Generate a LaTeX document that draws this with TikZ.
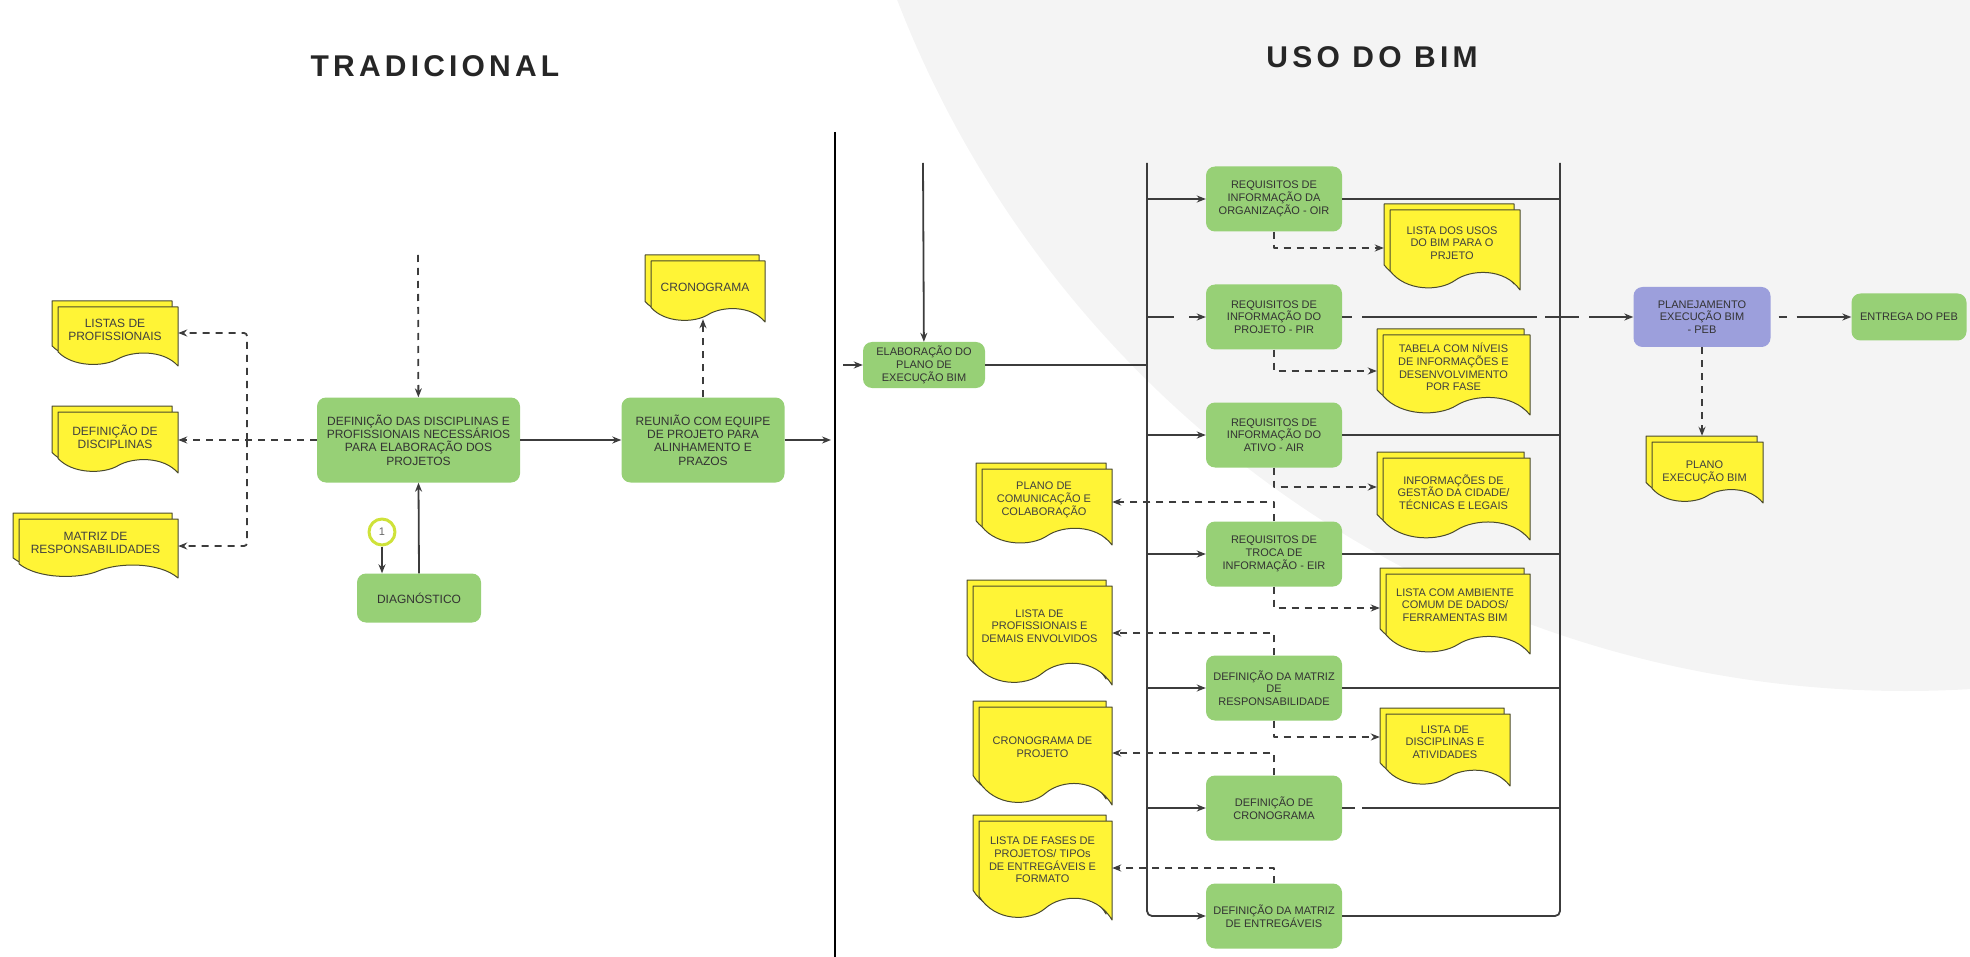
\documentclass[tikz,border=0pt]{standalone}
\usepackage{fontspec}
\setmainfont{Liberation Sans}
\newfontfamily\titlefont[LetterSpace=14]{Liberation Sans}
\usetikzlibrary{arrows.meta}
\definecolor{boxgreen}{HTML}{97D076}
\definecolor{docyellow}{HTML}{FFF436}
\definecolor{docedge}{HTML}{4A4A2E}
\definecolor{pebblue}{HTML}{9C9FDC}
\definecolor{linegray}{HTML}{3C3C3C}
\definecolor{bgshade}{HTML}{F4F4F4}
\definecolor{ringgreen}{HTML}{CFE23A}
\tikzset{
  every picture/.style={
    line join=round,
    >=Stealth,                      % same tip on every connector
  },
  title/.style={font={\fontsize{30}{32}\selectfont\titlefont\bfseries}, text=black!85},
  stepbox/.style={rounded corners=9pt, fill=boxgreen, align=center, inner sep=2pt,
    text=black!80, font={\fontsize{11}{12.7}\selectfont}},
  pebbox/.style={stepbox, fill=pebblue},
  bigtext/.style={font={\fontsize{12}{13.3}\selectfont}},
  doctext/.style={align=center, inner sep=0pt, text=black!75,
    font={\fontsize{11}{12.7}\selectfont}},
  sheet/.style={fill=docyellow, draw=docedge, line width=1pt},
  ring/.style={circle, draw=ringgreen, line width=3pt, fill=white, minimum size=26pt,
    inner sep=0pt, text=black!60, font={\fontsize{11}{11}\selectfont}},
  bus/.style={draw=linegray, line width=1.8pt},
  flow/.style={bus, -{Stealth[length=9pt,width=7pt]}},
  dashflow/.style={flow, dash pattern=on 7pt off 6pt},
}

% one sheet of paper with a wavy lower edge
\newcommand{\wavesheet}[4]{%
  \pgfmathsetmacro{\shL}{#1}\pgfmathsetmacro{\shT}{#2}%
  \pgfmathsetmacro{\shR}{#3}\pgfmathsetmacro{\shB}{#4}%
  \pgfmathsetmacro{\shW}{\shR-\shL}\pgfmathsetmacro{\shH}{\shB-\shT}%
  \filldraw[sheet] (\shL,\shT) -- (\shR,\shT) -- (\shR,\shB)
    .. controls ({\shR-0.12*\shW},{\shB-0.28*\shH}) and ({\shL+0.62*\shW},{\shB-0.26*\shH}) .. ({\shL+0.5*\shW},{\shB-0.12*\shH})
    .. controls ({\shL+0.38*\shW},{\shB+0.02*\shH}) and ({\shL+0.12*\shW},{\shB+0.02*\shH}) .. (\shL,{\shB-0.24*\shH}) -- cycle;
}
% stacked documents: [style]{name}{left}{top}{right}{bottom}{text y}{text}
\newcommand{\docsheet}[8][]{%
  \wavesheet{#3}{#4}{#5-6}{#6-6}%
  \wavesheet{#3+6}{#4+6}{#5}{#6}%
  \pgfmathsetmacro{\docw}{#5-#3}\pgfmathsetmacro{\doch}{2*(#7-#4)}%
  \node[doctext, #1, minimum width=\docw pt, minimum height=\doch pt] (#2) at ({(#3+#5)/2},#7) {#8};
}

\begin{document}
\begin{tikzpicture}[x=1pt, y=-1pt]
    \useasboundingbox (0,0) rectangle (1970,957);

    % Background disc
    \begin{scope}
      \clip (0,0) rectangle (1970,957);
      \fill[bgshade] (1905,-389) circle[radius=1080pt];
    \end{scope}

    % Titles and divider
    \node[title] (tradtitle) at (435,66) {TRADICIONAL};
    \node[title] (bimtitle) at (1372,57) {USO DO BIM};
    \draw[line width=2pt] (835,132) -- (835,957);

    % ---- Traditional flow ----
    \node[stepbox, bigtext, minimum width=203pt, minimum height=85pt] (defdisc) at (418.5,440)
      {DEFINIÇÃO DAS DISCIPLINAS E\\PROFISSIONAIS NECESSÁRIOS\\PARA ELABORAÇÃO DOS\\PROJETOS};
    \node[stepbox, bigtext, minimum width=163pt, minimum height=85pt] (reuniao) at (703,440)
      {REUNIÃO COM EQUIPE\\DE PROJETO PARA\\ALINHAMENTO E\\PRAZOS};
    \node[stepbox, bigtext, minimum width=124pt, minimum height=49pt] (diag) at (419,598) {DIAGNÓSTICO};
    \node[ring] (passo) at (382,532) {1};

    \docsheet[bigtext]{listas}{52}{301}{178}{366}{330}{LISTAS DE\\PROFISSIONAIS}
    \docsheet[bigtext]{defdoc}{52}{406}{178}{473}{437}{DEFINIÇÃO DE\\DISCIPLINAS}
    \docsheet[bigtext]{matriz}{13}{513}{178}{578}{543}{MATRIZ DE\\RESPONSABILIDADES}
    \docsheet[bigtext]{crono}{645}{255}{765}{322}{287}{CRONOGRAMA}

    \coordinate (feed) at (418,255);
    \coordinate (fork) at (247,440);
    \coordinate (handoff) at (831,440);
    \draw[dashflow] (feed) -- (defdisc);
    \draw[flow] (defdisc) -- (reuniao);
    \draw[flow, line width=2.4pt] (reuniao) -- (handoff);
    \draw[dashflow] (reuniao.north) -- (reuniao.north |- crono.south);
    \draw[dashflow] (defdisc.west) -- (defdisc.west -| defdoc.east);
    \draw[dashflow, rounded corners=3pt] (fork) |- ([yshift=-3pt]listas.east);
    \draw[dashflow, rounded corners=3pt] (fork) |- ([yshift=-3pt]matriz.east);
    \draw[flow] (passo) -- (passo |- diag.north);
    \draw[flow] (diag.north) -- (defdisc.south);

    % ---- BIM flow ----
    \node[stepbox, minimum width=122pt, minimum height=46pt] (elab) at (924,365)
      {ELABORAÇÃO DO\\PLANO DE\\EXECUÇÃO BIM};
    \node[stepbox, minimum width=136pt, minimum height=65pt] (oir) at (1274,199)
      {REQUISITOS DE\\INFORMAÇÃO DA\\ORGANIZAÇÃO - OIR};
    \node[stepbox, minimum width=136pt, minimum height=65pt] (pir) at (1274,317)
      {REQUISITOS DE\\INFORMAÇÃO DO\\PROJETO - PIR};
    \node[stepbox, minimum width=136pt, minimum height=65pt] (air) at (1274,435)
      {REQUISITOS DE\\INFORMAÇÃO DO\\ATIVO - AIR};
    \node[stepbox, minimum width=136pt, minimum height=65pt] (eir) at (1274,554)
      {REQUISITOS DE\\TROCA DE\\INFORMAÇÃO - EIR};
    \node[stepbox, minimum width=136pt, minimum height=65pt] (matresp) at (1274,688)
      {DEFINIÇÃO DA MATRIZ\\DE\\RESPONSABILIDADE};
    \node[stepbox, minimum width=136pt, minimum height=65pt] (defcron) at (1274,808)
      {DEFINIÇÃO DE\\CRONOGRAMA};
    \node[stepbox, minimum width=136pt, minimum height=65pt] (matde) at (1274,916)
      {DEFINIÇÃO DA MATRIZ\\DE ENTREGÁVEIS};
    \node[pebbox, minimum width=137pt, minimum height=60pt] (peb) at (1702,317)
      {PLANEJAMENTO\\EXECUÇÃO BIM\\- PEB};
    \node[stepbox, minimum width=115pt, minimum height=47pt] (entrega) at (1909,317) {ENTREGA DO PEB};

    % documents beside the requirements
    \docsheet{usos}{1384}{204}{1520}{290}{243}{LISTA DOS USOS\\DO BIM PARA O\\PRJETO}
    \docsheet{tabela}{1377}{329}{1530}{415}{367}{TABELA COM NÍVEIS\\DE INFORMAÇÕES E\\DESENVOLVIMENTO\\POR FASE}
    \docsheet{info}{1377}{452}{1530}{540}{492}{INFORMAÇÕES DE\\GESTÃO DA CIDADE/\\TÉCNICAS E LEGAIS}
    \docsheet{ambiente}{1380}{568}{1530}{654}{605}{LISTA COM AMBIENTE\\COMUM DE DADOS/\\FERRAMENTAS BIM}
    \docsheet{atividades}{1380}{708}{1510}{786}{742}{LISTA DE\\DISCIPLINAS E\\ATIVIDADES}
    \docsheet{comunic}{976}{463}{1112}{545}{500}{PLANO DE\\COMUNICAÇÃO E\\COLABORAÇÃO}
    \docsheet{envolvidos}{967}{580}{1112}{685}{626}{LISTA DE\\PROFISSIONAIS E\\DEMAIS ENVOLVIDOS}
    \docsheet{cronoproj}{973}{701}{1112}{805}{747}{CRONOGRAMA DE\\PROJETO}
    \docsheet{fases}{973}{815}{1112}{920}{860}{LISTA DE FASES DE\\PROJETOS/ TIPOs\\DE ENTREGÁVEIS E\\FORMATO}
    \docsheet{planobim}{1646}{436}{1763}{503}{472}{PLANO\\EXECUÇÃO BIM}

    % entry and the two buses
    \coordinate (bimin) at (843,365);
    \coordinate (bimtop) at (923,163);
    \coordinate (lbus) at (1147,163);
    \coordinate (rbus) at (1560,163);
    \draw[flow] (bimin) -- (elab);
    \draw[flow] (bimtop) -- (elab);
    \draw[bus] (elab) -- (elab -| lbus);
    \draw[flow, rounded corners=5pt] (lbus) |- (matde);
    \draw[bus, rounded corners=5pt] (rbus) |- (matde);

    \draw[flow] (lbus |- oir) -- (oir);
    \draw[flow, dash pattern=on 27pt off 15pt on 40pt] (lbus |- pir) -- (pir);
    \draw[flow] (lbus |- air) -- (air);
    \draw[flow] (lbus |- eir) -- (eir);
    \draw[flow] (lbus |- matresp) -- (matresp);
    \draw[flow] (lbus |- defcron) -- (defcron);

    \draw[bus] (oir) -- (oir -| rbus);
    \draw[bus] (air) -- (air -| rbus);
    \draw[bus] (eir) -- (eir -| rbus);
    \draw[bus] (matresp) -- (matresp -| rbus);
    \draw[bus, dash pattern=on 13pt off 7pt on 300pt] (defcron) -- (defcron -| rbus);

    % PEB branch
    \draw[flow, line width=2.2pt, dash pattern=on 10pt off 10pt on 175pt off 8pt on 34pt off 10pt on 60pt] (pir) -- (peb);
    \draw[flow, shorten <=8pt, dash pattern=on 8pt off 10pt on 100pt] (peb) -- (entrega);
    \draw[dashflow] (peb) -- (peb.south |- planobim.north);

    % requirement outputs
    \draw[dashflow] (oir) |- ([yshift=-5pt]usos.west);
    \draw[dashflow, line width=2.4pt] (pir) |- ([yshift=-4pt]tabela.west);
    \draw[dashflow] (air) |- ([yshift=5pt]info.west);
    \draw[dashflow] (eir) |- ([yshift=-3pt]ambiente.west);
    \draw[dashflow] (matresp) |- ([yshift=5pt]atividades.west);
    \draw[dashflow] (eir) |- ([yshift=-2pt]comunic.east);
    \draw[dashflow] (matresp) |- ([yshift=-7pt]envolvidos.east);
    \draw[dashflow] (defcron) |- ([yshift=-6pt]cronoproj.east);
    \draw[dashflow] (matde) |- ([yshift=-8pt]fases.east);
\end{tikzpicture}
\end{document}
